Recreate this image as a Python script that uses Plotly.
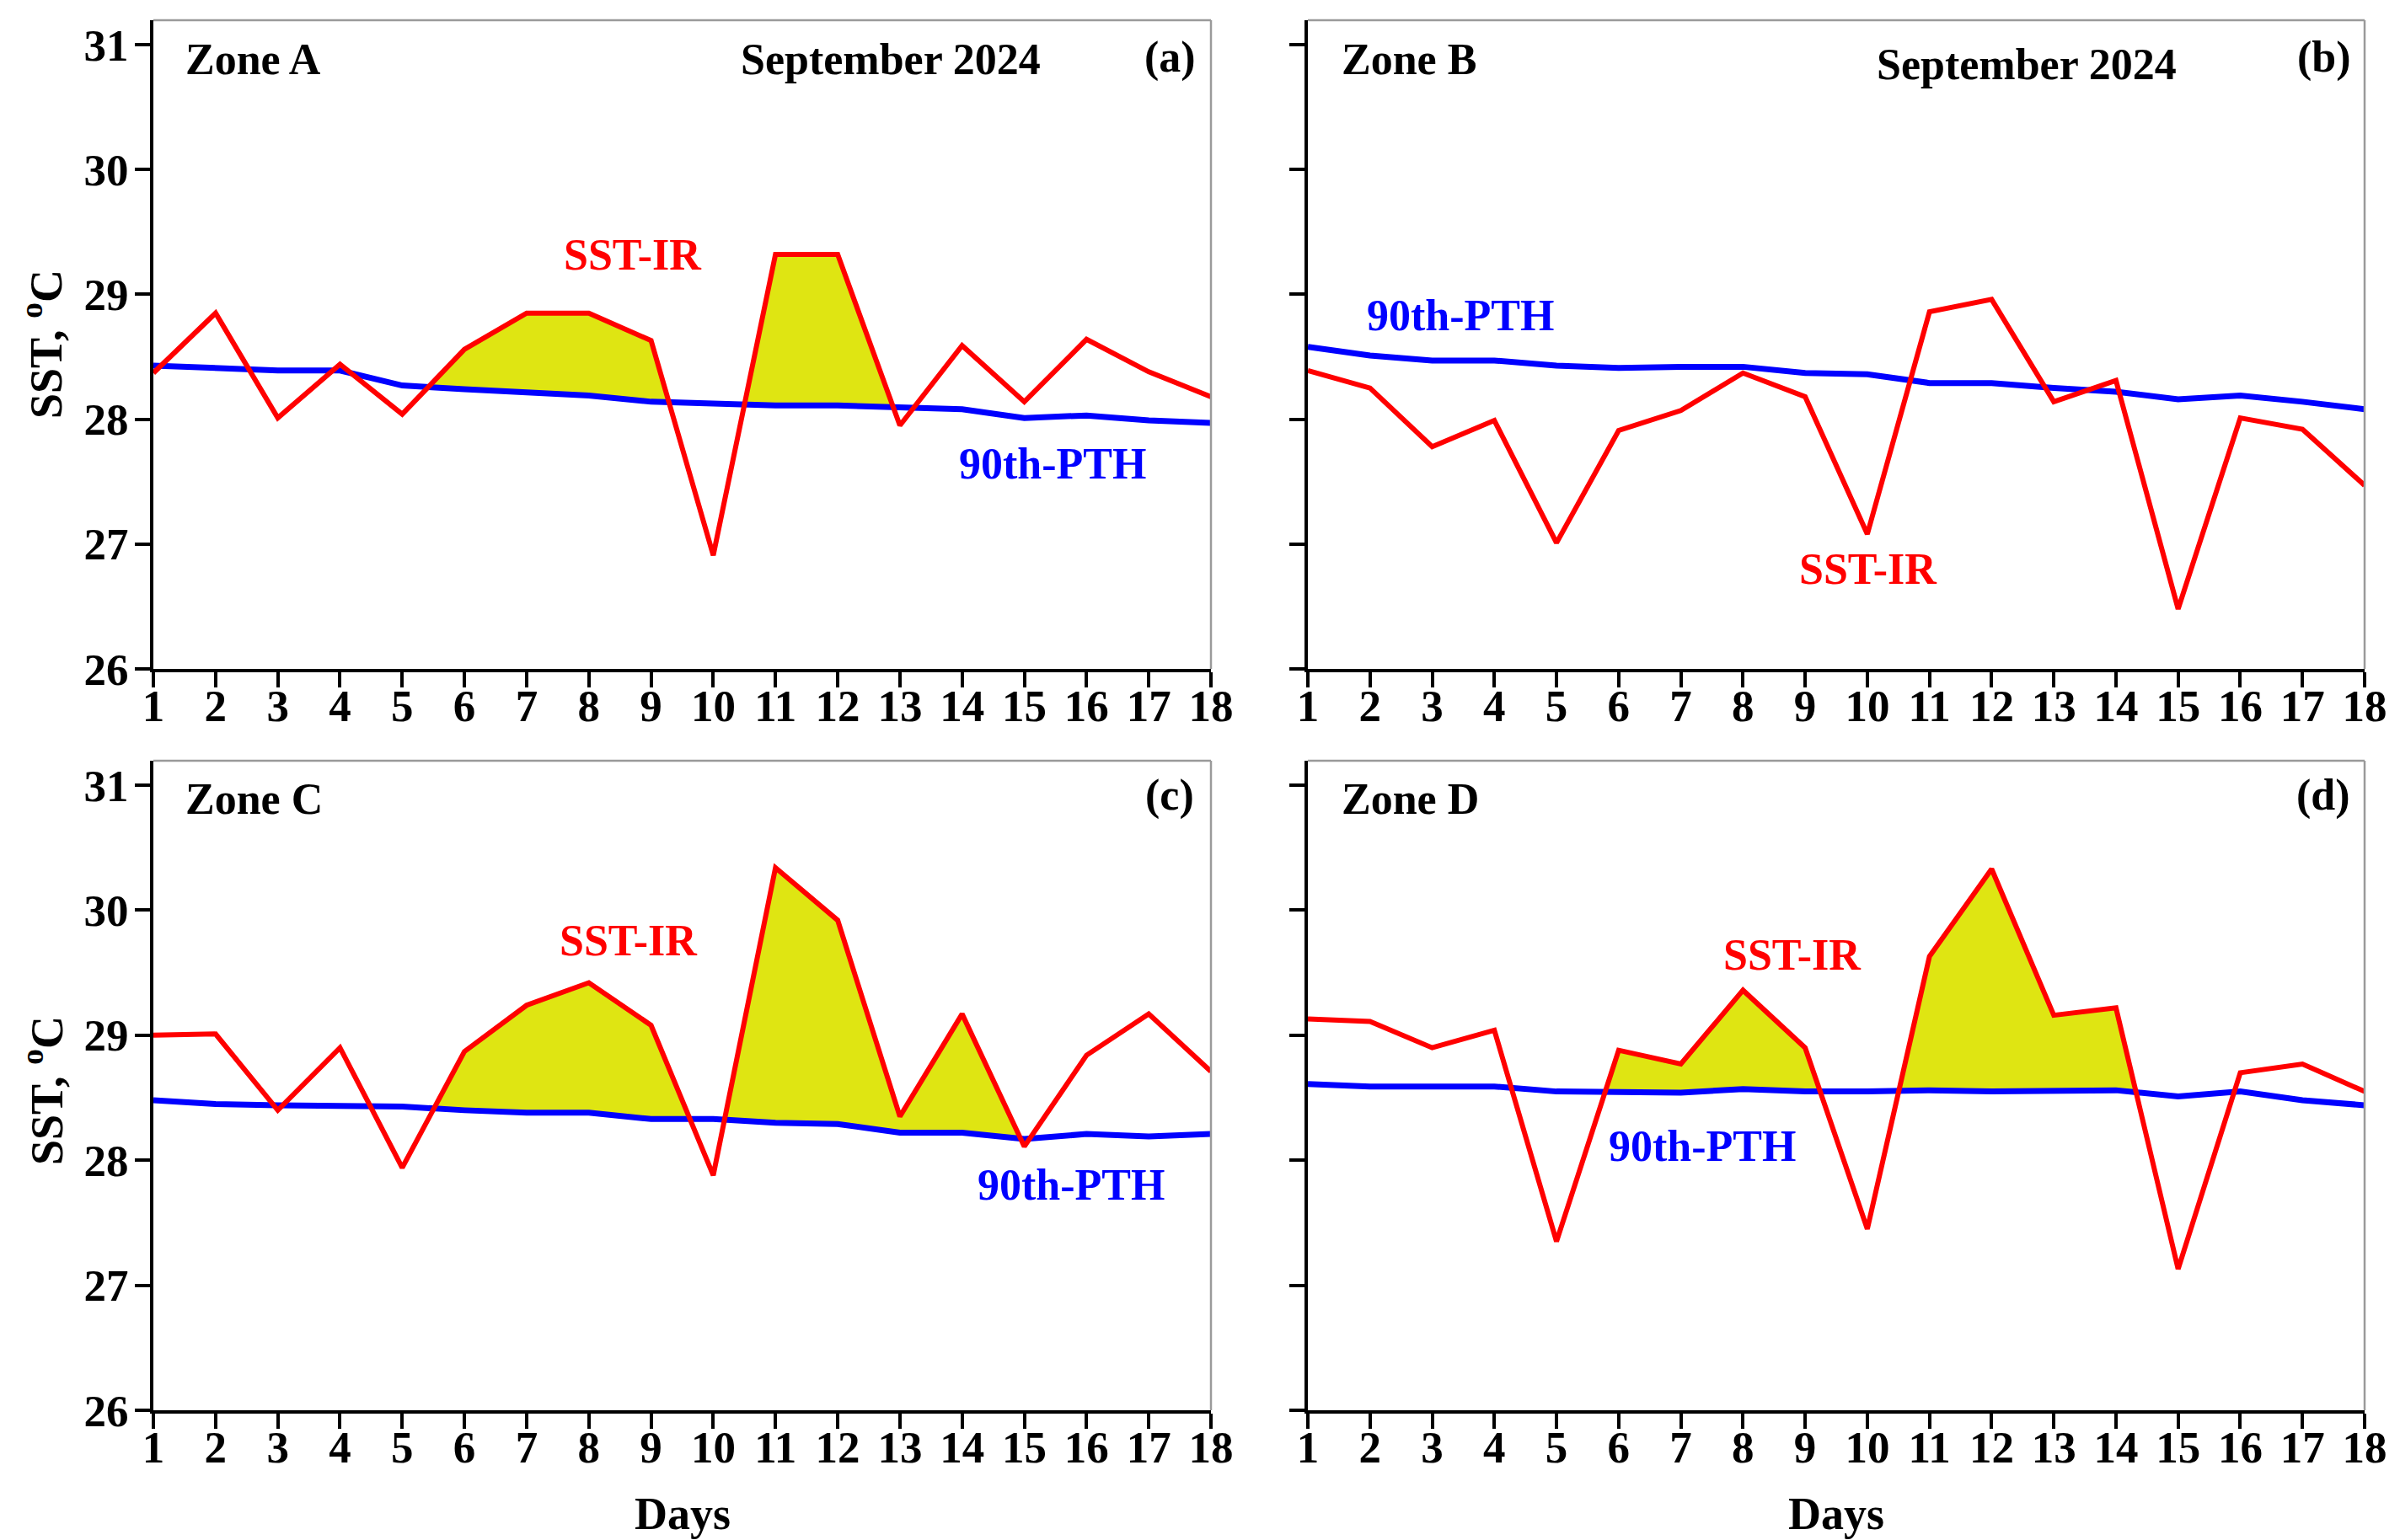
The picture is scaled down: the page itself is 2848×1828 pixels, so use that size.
import plotly.graph_objects as go

days = list(range(1, 19))

sst_a = [28.37, 28.85, 28.01, 28.44, 28.04, 28.56, 28.85, 28.85, 28.63, 26.91,
         29.32, 29.32, 27.95, 28.59, 28.14, 28.64, 28.38, 28.18]
pth_a = [28.43, 28.41, 28.39, 28.39, 28.27, 28.24, 28.22, 28.19, 28.14, 28.12,
         28.11, 28.11, 28.10, 28.08, 28.01, 28.03, 27.99, 27.97]

sst_b = [28.39, 28.25, 27.78, 27.99, 27.01, 27.91, 28.07, 28.37, 28.18, 27.08,
         28.86, 28.96, 28.14, 28.31, 26.48, 28.01, 27.92, 27.47]
pth_b = [28.58, 28.51, 28.47, 28.47, 28.43, 28.41, 28.42, 28.42, 28.37, 28.36,
         28.29, 28.29, 28.25, 28.22, 28.16, 28.19, 28.14, 28.08]

sst_c = [29.00, 29.01, 28.40, 28.90, 27.94, 28.87, 29.24, 29.42, 29.08, 27.88,
         30.34, 29.92, 28.35, 29.17, 28.11, 28.84, 29.17, 28.71]
pth_c = [28.48, 28.45, 28.44, 28.44, 28.43, 28.40, 28.38, 28.38, 28.33, 28.33,
         28.30, 28.29, 28.22, 28.22, 28.17, 28.21, 28.19, 28.21]

sst_d = [29.13, 29.11, 28.90, 29.04, 27.35, 28.88, 28.77, 29.36, 28.90, 27.45,
         29.63, 30.33, 29.16, 29.22, 27.13, 28.70, 28.77, 28.55]
pth_d = [28.61, 28.59, 28.59, 28.59, 28.55, 28.54, 28.54, 28.57, 28.55, 28.55,
         28.56, 28.55, 28.55, 28.56, 28.51, 28.55, 28.48, 28.44]

# heatwave events (first day, last day) shaded between the curves
events_a = [(6, 9), (11, 12)]
events_b = []
events_c = [(6, 9), (11, 14)]
events_d = [(6, 9), (11, 14)]

zones = ["Zone A", "Zone B", "Zone C", "Zone D"]
panel_tags = ["(a)", "(b)", "(c)", "(d)"]
month_label = "September 2024"
y_ticks = [26, 27, 28, 29, 30, 31]

RED = "#FF0000"
BLUE = "#0000FF"
FILL = "#DFE512"
FONT = "Liberation Serif"
FS = 52

panels = [
    (sst_a, pth_a, events_a),
    (sst_b, pth_b, events_b),
    (sst_c, pth_c, events_c),
    (sst_d, pth_d, events_d),
]

W, H = 2848, 1828
xdoms = [[182 / W, 1437 / W], [1552 / W, 2806 / W]]
ydoms = [[1 - 794 / H, 1 - 24 / H], [1 - 1674 / H, 1 - 903 / H]]
YR = [26, 31.196]

fig = go.Figure()


def crossing(x0, r0, b0, r1, b1):
    d0 = r0 - b0
    d1 = r1 - b1
    t = d0 / (d0 - d1)
    return x0 + t, r0 + t * (r1 - r0)


for i, (sst, pth, events) in enumerate(panels):
    k = i + 1
    xa = "x" if k == 1 else f"x{k}"
    ya = "y" if k == 1 else f"y{k}"
    for (s, e) in events:
        si, ei = s - 1, e - 1
        xs, ys = crossing(days[si - 1], sst[si - 1], pth[si - 1], sst[si], pth[si])
        xe, ye = crossing(days[ei], sst[ei], pth[ei], sst[ei + 1], pth[ei + 1])
        px = [xs] + days[si:ei + 1] + [xe] + days[si:ei + 1][::-1] + [xs]
        py = [ys] + sst[si:ei + 1] + [ye] + pth[si:ei + 1][::-1] + [ys]
        fig.add_trace(go.Scatter(x=px, y=py, mode="lines", fill="toself",
                                 fillcolor=FILL, line=dict(width=0),
                                 xaxis=xa, yaxis=ya, showlegend=False,
                                 hoverinfo="skip"))
    fig.add_trace(go.Scatter(x=days, y=pth, mode="lines",
                             line=dict(color=BLUE, width=7),
                             xaxis=xa, yaxis=ya, showlegend=False))
    fig.add_trace(go.Scatter(x=days, y=sst, mode="lines",
                             line=dict(color=RED, width=6),
                             xaxis=xa, yaxis=ya, showlegend=False))

tickfont = dict(family=FONT, size=53, color="black", weight="bold")
layout = dict(width=W, height=H, margin=dict(l=0, r=0, t=0, b=0, pad=0),
              plot_bgcolor="white", paper_bgcolor="white", showlegend=False)

for i in range(4):
    k = i + 1
    row, col = divmod(i, 2)
    xkey = "xaxis" if k == 1 else f"xaxis{k}"
    ykey = "yaxis" if k == 1 else f"yaxis{k}"
    ya = "y" if k == 1 else f"y{k}"
    xa = "x" if k == 1 else f"x{k}"
    layout[xkey] = dict(domain=xdoms[col], anchor=ya, range=[1, 18],
                        tickvals=days, ticktext=[str(d) for d in days],
                        showline=True, linecolor="black", linewidth=4,
                        ticks="outside", ticklen=18, tickwidth=3.5, tickcolor="black",
                        showgrid=False, zeroline=False, tickfont=tickfont,
                        ticklabelstandoff=-24, automargin=False,
                        fixedrange=True)
    layout[ykey] = dict(domain=ydoms[row], anchor=xa, range=YR,
                        tickvals=y_ticks, ticktext=[str(v) for v in y_ticks],
                        showticklabels=(col == 0),
                        showline=True, linecolor="black", linewidth=4,
                        ticks="outside", ticklen=18, tickwidth=3.5, tickcolor="black",
                        showgrid=False, zeroline=False, tickfont=tickfont,
                        ticklabelstandoff=-3, automargin=False,
                        fixedrange=True)

fig.update_layout(**layout)

# thin grey top/right frame
for i in range(4):
    k = i + 1
    xa = "x" if k == 1 else f"x{k}"
    ya = "y" if k == 1 else f"y{k}"
    fig.add_shape(type="line", xref=f"{xa} domain", yref=f"{ya} domain",
                  x0=0, x1=1, y0=1, y1=1, line=dict(color="#9A9A9A", width=2.5))
    fig.add_shape(type="line", xref=f"{xa} domain", yref=f"{ya} domain",
                  x0=1, x1=1, y0=0, y1=1, line=dict(color="#9A9A9A", width=2.5))


def ann(k, x, y, text, color="black", xanchor="center"):
    xa = "x" if k == 1 else f"x{k}"
    ya = "y" if k == 1 else f"y{k}"
    fig.add_annotation(x=x, y=y, xref=xa, yref=ya, text=text, showarrow=False,
                       xanchor=xanchor, yanchor="middle",
                       font=dict(family=FONT, size=FS, color=color, weight="bold"))


# zone names & panel tags
ann(1, 1.49, 30.885, zones[0], xanchor="left")
ann(2, 1.52, 30.885, zones[1], xanchor="left")
ann(3, 1.49, 30.89, zones[2], xanchor="left")
ann(4, 1.52, 30.89, zones[3], xanchor="left")
ann(1, 17.34, 30.9, panel_tags[0])
ann(2, 17.35, 30.9, panel_tags[1])
ann(3, 17.33, 30.92, panel_tags[2])
ann(4, 17.33, 30.92, panel_tags[3])
ann(1, 12.85, 30.88, month_label)
ann(2, 12.57, 30.84, month_label)

# series labels
ann(1, 8.71, 29.32, "SST-IR", RED)
ann(1, 15.46, 27.64, "90th-PTH", BLUE)
ann(2, 3.46, 28.83, "90th-PTH", BLUE)
ann(2, 10.01, 26.80, "SST-IR", RED)
ann(3, 8.64, 29.76, "SST-IR", RED)
ann(3, 15.75, 27.80, "90th-PTH", BLUE)
ann(4, 8.80, 29.64, "SST-IR", RED)
ann(4, 7.35, 28.11, "90th-PTH", BLUE)

# axis titles
for yc in [1 - 408 / H, 1 - 1294 / H]:
    fig.add_annotation(x=51 / W, y=yc, xref="paper", yref="paper",
                       text="SST, <sup>o</sup>C", showarrow=False, textangle=-90,
                       xanchor="center", yanchor="middle",
                       font=dict(family=FONT, size=54, color="black", weight="bold"))
for xc in [(182 + 1437) / 2 / W, (1552 + 2806) / 2 / W]:
    fig.add_annotation(x=xc, y=1 - 1797 / H, xref="paper", yref="paper",
                       text="Days", showarrow=False,
                       xanchor="center", yanchor="middle",
                       font=dict(family=FONT, size=54, color="black", weight="bold"))

fig.write_html("out.html",
               post_script="document.body.style.margin='0';"
                           "document.body.style.overflow='hidden';",
               config={"displayModeBar": False})
